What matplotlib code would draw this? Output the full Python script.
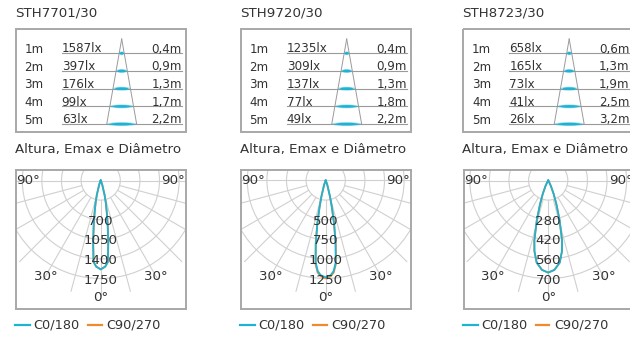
from matplotlib import pyplot as plt
from matplotlib.patches import Circle, Ellipse, Rectangle
import numpy as np

# --- data ---
models = ['STH7701/30', 'STH9720/30', 'STH8723/30']
heights = ['1m', '2m', '3m', '4m', '5m']
lux_1 = ['1587lx', '397lx', '176lx', '99lx', '63lx']
lux_2 = ['1235lx', '309lx', '137lx', '77lx', '49lx']
lux_3 = ['658lx', '165lx', '73lx', '41lx', '26lx']
diam_1 = ['0,4m', '0,9m', '1,3m', '1,7m', '2,2m']
diam_2 = ['0,4m', '0,9m', '1,3m', '1,8m', '2,2m']
diam_3 = ['0,6m', '1,3m', '1,9m', '2,5m', '3,2m']

# polar scale (outer ring value) for each panel
r_max = [1750, 1250, 700]

# intensity curves (cd) vs angle from nadir (deg), one half, mirrored when drawn
ang_1 = [0, 3, 5, 7, 9, 11, 13, 15, 20, 25, 30]
c0_1 = [1587, 1540, 1460, 1110, 795, 560, 400, 270, 80, 20, 0]
c90_1 = [1587, 1540, 1460, 1110, 795, 560, 400, 270, 80, 20, 0]
ang_2 = [0, 3, 5, 7, 9, 11, 13, 15, 20, 25, 30]
c0_2 = [1235, 1210, 1160, 1050, 800, 555, 345, 210, 60, 12, 0]
c90_2 = [1248, 1224, 1178, 1072, 822, 566, 352, 214, 61, 12, 0]
ang_3 = [0, 4, 8, 11, 13, 16, 19, 22, 26, 30, 35]
c0_3 = [658, 640, 592, 515, 440, 295, 180, 105, 45, 13, 0]
c90_3 = [658, 640, 592, 515, 440, 295, 180, 105, 45, 13, 0]

panels = [
    (models[0], lux_1, diam_1, r_max[0], ang_1, c0_1, c90_1),
    (models[1], lux_2, diam_2, r_max[1], ang_2, c0_2, c90_2),
    (models[2], lux_3, diam_3, r_max[2], ang_3, c0_3, c90_3),
]

CYAN = '#1eb2d4'
ORANGE = '#f08a2a'
TXT = '#333333'
GRID = '#d0d0d0'
BOX = '#a8a8a8'
FONT = 'DejaVu Sans'
FS_HEAD = 9.6
FS_TAB = 8.6
FS_POL = 9.6
FS_LEG = 9.3

W, H = 630, 338
fig = plt.figure(figsize=(W / 100, H / 100), dpi=100)

# overlay axes in pixel coords for titles / tables / legends
ov = fig.add_axes([0, 0, 1, 1])
ov.set_xlim(0, W)
ov.set_ylim(H, 0)
ov.axis('off')

offsets = [0, 225, 447.5]

for off, (model, lux, diam, rmax, ang, c0, c90) in zip(offsets, panels):
    # ---- header + table ----
    ov.text(15 + off, 13.5, model, fontsize=FS_HEAD, color=TXT, family=FONT,
            ha='left', va='center')
    ov.add_patch(Rectangle((15.5 + off, 28.5), 170, 103.5, fill=False,
                           ec=BOX, lw=1.4))

    row_y = 53.3
    step = 17.7
    apex = (121.7 + off, 39)
    cone_bot = 124.3
    half_bot = 15
    ov.plot([apex[0], apex[0] - half_bot], [apex[1], cone_bot], color='#9a9a9a', lw=0.7)
    ov.plot([apex[0], apex[0] + half_bot], [apex[1], cone_bot], color='#9a9a9a', lw=0.7)

    for i, (h, lx, d) in enumerate(zip(heights, lux, diam)):
        y = row_y + i * step
        ov.plot([61.5 + off, 181.7 + off], [y, y], color='#9a9a9a', lw=0.8)
        ov.text(43.5 + off, y - 0.3, h, fontsize=FS_TAB, color=TXT, family=FONT,
                ha='right', va='baseline')
        ov.text(61.7 + off, y - 0.8, lx, fontsize=FS_TAB, color=TXT, family=FONT,
                ha='left', va='baseline')
        ov.text(181.7 + off, y - 0.8, d, fontsize=FS_TAB, color=TXT, family=FONT,
                ha='right', va='baseline')
        # beam cross-section on the cone
        wdt = 2 * half_bot * (y - apex[1]) / (cone_bot - apex[1])
        ov.add_patch(Ellipse((apex[0], y), wdt, 3.8, fc=CYAN, ec='none', alpha=0.45, zorder=3))
        ov.add_patch(Ellipse((apex[0], y), wdt * 0.75, 2.6, fc=CYAN, ec='none', zorder=3))

    ov.text(15 + off, 149.5, 'Altura, Emax e Diâmetro', fontsize=FS_HEAD, color=TXT,
            family=FONT, ha='left', va='center')

    # ---- legend ----
    ov.plot([15 + off, 30 + off], [325, 325], color=CYAN, lw=1.6)
    ov.text(33.3 + off, 325, 'C0/180', fontsize=FS_LEG, color=TXT, family=FONT,
            ha='left', va='center')
    ov.plot([88.3 + off, 101.7 + off], [325, 325], color=ORANGE, lw=1.6)
    ov.text(106.7 + off, 325, 'C90/270', fontsize=FS_LEG, color=TXT, family=FONT,
            ha='left', va='center')

    # ---- polar diagram (drawn in a cartesian box, nadir pointing down) ----
    x0, x1, y0, y1 = 16 + off, 186 + off, 170, 309
    cx, cy = 100.7 + off, 180.5
    s = rmax / 98.0  # cd per pixel
    ax = fig.add_axes([x0 / W, 1 - y1 / H, (x1 - x0) / W, (y1 - y0) / H])
    ax.set_xlim(-(cx - x0) * s, (x1 - cx) * s)
    ax.set_ylim(-(y1 - cy) * s, (cy - y0) * s)
    ax.set_xticks([])
    ax.set_yticks([])
    for sp in ax.spines.values():
        sp.set_color(BOX)
        sp.set_linewidth(1.4)

    ring_step = rmax / 5
    rings = [ring_step * k for k in range(1, 6)]
    for r in rings:
        ax.add_patch(Circle((0, 0), r, fill=False, ec=GRID, lw=0.8))
    r_out = 1.17 * rmax
    for a in range(-75, 76, 15):
        t = np.radians(a)
        ax.plot([rings[0] * np.sin(t), r_out * np.sin(t)],
                [-rings[0] * np.cos(t), -r_out * np.cos(t)], color=GRID, lw=0.8)
    ax.axhline(0, color=GRID, lw=0.8)

    # curves
    th = np.radians(np.concatenate([-np.array(ang[::-1]), np.array(ang[1:])]))
    for vals, col in [(c90, ORANGE), (c0, CYAN)]:
        r = np.concatenate([np.array(vals[::-1]), np.array(vals[1:])])
        ax.plot(r * np.sin(th), -r * np.cos(th), color=col, lw=1.3)

    # labels
    for r in rings[1:]:
        ax.text(0, -r - 1.5 * s, f'{r:.0f}', fontsize=FS_POL, color=TXT, family=FONT,
                ha='center', va='center')
    ax.text(0, -1.19 * rmax, '0°', fontsize=FS_POL, color=TXT, family=FONT,
            ha='center', va='center')
    for sgn in (-1, 1):
        t = np.radians(30)
        ax.text(sgn * 1.13 * rmax * np.sin(t), -1.13 * rmax * np.cos(t), '30°',
                fontsize=FS_POL, color=TXT, family=FONT, ha='center', va='center')
        ax.text(sgn * 0.74 * rmax, 0.1 * s, '90°', fontsize=FS_POL, color=TXT,
                family=FONT, ha='center', va='center')

plt.savefig('out.png', dpi=100)
plt.close('all')
